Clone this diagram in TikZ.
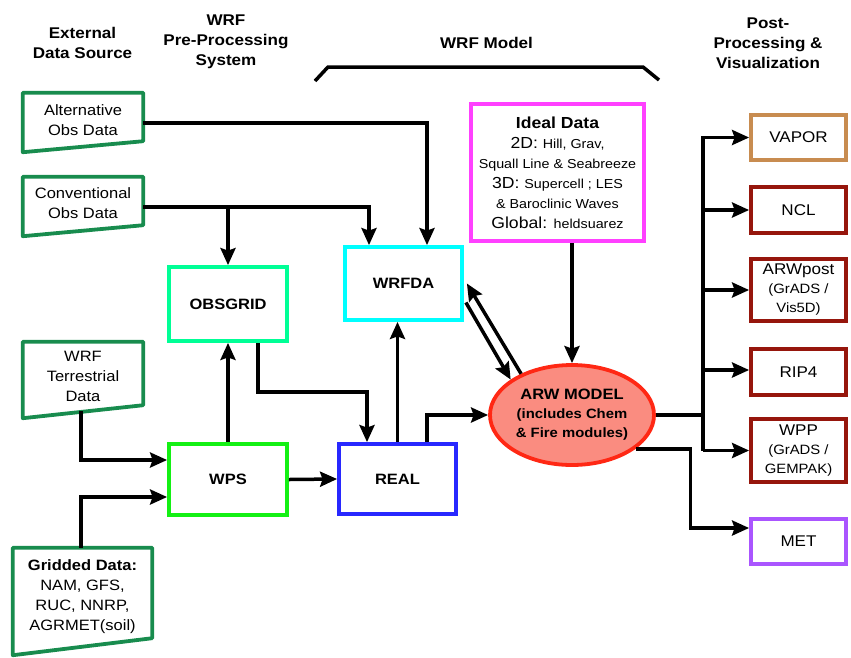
\documentclass[tikz,border=0pt]{standalone}
\usepackage{fontspec}
\setmainfont{Liberation Sans}[FakeStretch=1.1]
\usetikzlibrary{arrows.meta,calc,shapes.geometric}
\definecolor{datagreen}{RGB}{24,140,78}
\definecolor{obsgreen}{RGB}{0,255,150}
\definecolor{wpsgreen}{RGB}{20,240,20}
\definecolor{wrfdacyan}{RGB}{0,255,255}
\definecolor{realblue}{RGB}{40,40,255}
\definecolor{idealmag}{RGB}{255,64,255}
\definecolor{arwfill}{RGB}{250,140,128}
\definecolor{arwline}{RGB}{255,40,20}
\definecolor{vaportan}{RGB}{200,140,80}
\definecolor{postred}{RGB}{150,22,12}
\definecolor{metpurple}{RGB}{170,85,255}
\newcommand\fsz[1]{\fontsize{#1}{20}\selectfont}
\newcommand\fszb[1]{\fontsize{#1}{19}\selectfont}
\begin{document}
\begin{tikzpicture}[x=1pt,y=-1pt,
 hdr/.style={font=\bfseries\fsz{15.5}, align=center, inner sep=0},
 dshape/.style={inner sep=0},
 dtext/.style={font=\fsz{15}, align=center, inner sep=0},
 bx/.style={draw, line width=3.8pt, inner sep=0, align=center},
 corebx/.style={bx, minimum width=117pt, font=\bfseries\fsz{15}},
 postbx/.style={bx, draw=postred, minimum width=95pt, font=\fszb{15.5}},
 conn/.style={line width=3.5pt},
 arr/.style={conn, -{Stealth[length=17pt,width=15pt,inset=2.5pt]}},
 dborder/.style={draw=datagreen, line width=3.8pt, line join=round}
]
\useasboundingbox (0,0) rectangle (851,657);

% headers
\node[hdr] (h1) at (82.5,43) {External\\Data Source};
\node[hdr] (h2) at (226,42) {WRF\\Pre-Processing\\System};
\node[hdr] (h3) at (486.5,43) {WRF Model};
\node[hdr] (h4) at (768,43) {Post-\\Processing \&\\Visualization};
\draw[conn] (315,81) -- (328,67) -- (643,67) -- (659,80);

% external data boxes
\node[dshape, minimum width=120pt, minimum height=48pt] (alt) at (83,117) {};
\draw[dborder] (alt.north west) -- (alt.north east) -- (alt.south east) -- ($(alt.south west)+(0,11)$) -- cycle;
\node[dtext] (altT) at ($(alt)+(0,3)$) {Alternative\\Obs Data};

\node[dshape, minimum width=120pt, minimum height=48pt] (conv) at (83,201) {};
\draw[dborder] (conv.north west) -- (conv.north east) -- (conv.south east) -- ($(conv.south west)+(0,11)$) -- cycle;
\node[dtext] (convT) at ($(conv)+(0,2)$) {Conventional\\Obs Data};

\node[dshape, minimum width=120pt, minimum height=63pt] (terr) at (83,373.5) {};
\draw[dborder] (terr.north west) -- (terr.north east) -- (terr.south east) -- ($(terr.south west)+(0,13)$) -- cycle;
\node[dtext] (terrT) at ($(terr)+(0,2.5)$) {WRF\\Terrestrial\\Data};

\node[dshape, minimum width=139pt, minimum height=90pt] (grid) at (82.5,593) {};
\draw[dborder] (grid.north west) -- (grid.north east) -- (grid.south east) -- ($(grid.south west)+(0,17)$) -- cycle;
\node[dtext, font=\fsz{15}] (gridT) at ($(grid)+(0,4)$) {{\bfseries Gridded Data:}\\NAM, GFS,\\RUC, NNRP,\\AGRMET(soil)};

% core boxes
\node[corebx, draw=obsgreen, minimum width=118pt, minimum height=74pt] (obsgrid) at (228,304) {OBSGRID};
\node[corebx, draw=wpsgreen, minimum width=118pt, minimum height=71pt] (wps) at (228,479.5) {WPS};
\node[corebx, draw=wrfdacyan, minimum height=73pt] (wrfda) at (403.5,283.5) {WRFDA};
\node[corebx, draw=realblue, minimum height=70pt] (real) at (397.5,479) {REAL};
\node[bx, draw=idealmag, minimum width=173pt, minimum height=137pt, font=\fsz{16}] (ideal) at (557.5,172.5)
 {{\bfseries Ideal Data}\\2D: {\fsz{13}Hill, Grav,}\\{\fsz{13}Squall Line \& Seabreeze}\\3D: {\fsz{13}Supercell ; LES}\\{\fsz{13}\& Baroclinic Waves}\\Global: {\fsz{13}heldsuarez}};
\node[ellipse, draw=arwline, fill=arwfill, line width=3.8pt, minimum width=164pt, minimum height=100pt, inner sep=0, align=center, font=\bfseries\fszb{15}] (arw) at (572,415)
 {ARW MODEL\\{\fszb{13.5}(includes Chem}\\{\fszb{13.5}\& Fire modules)}};

% post-processing boxes
\node[postbx, draw=vaportan, minimum height=45pt] (vapor) at (798.5,137.5) {VAPOR};
\node[postbx, minimum height=46pt] (ncl) at (798.5,210) {NCL};
\node[postbx, minimum height=62pt] (arwpost) at (798.5,290) {ARWpost\\{\fszb{13.5}(GrADS /}\\{\fszb{13.5}Vis5D)}};
\node[postbx, minimum height=46pt] (rip) at (798.5,372) {RIP4};
\node[postbx, minimum height=63pt] (wpp) at (798.5,450.5) {WPP\\{\fszb{13.5}(GrADS /}\\{\fszb{13.5}GEMPAK)}};
\node[postbx, draw=metpurple, minimum height=45pt] (met) at (798.5,541.5) {MET};

% connectors
\coordinate (cstart) at ($(conv.east)+(0,6)$);
\draw[arr] ($(alt.east)+(0,6)$) -| ($(wrfda.north)+(23.5,0)$);
\draw[arr] (cstart) -| ($(wrfda.north)+(-34.5,0)$);
\draw[arr] (obsgrid.north |- cstart) -- (obsgrid.north);
\draw[arr] ($(terr.south)+(-2,6)$) |- ($(wps.west)+(0,-19.5)$);
\draw[arr] ($(grid.north)+(-1.5,0)$) |- ($(wps.west)+(0,17.5)$);
\draw[arr] (wps.north) -- (obsgrid.south);
\draw[arr] ($(obsgrid.south)+(30,0)$) -- ++(0,49) -| ($(real.north)+(-30.5,0)$);
\draw[arr] (wps.east) -- (real.west);
\draw[arr] (real.north) -- (real.north |- wrfda.south);
\draw[arr] ($(real.north)+(29.5,0)$) |- (arw.west);
\draw[arr] (arw.141) -- ($(wrfda.east)+(3,0)$);
\draw[arr] ($(wrfda.east)+(2,19)$) -- (arw.150);
\draw[arr] (ideal.south -| arw.north) -- (arw.north);

\coordinate (tr) at (703,0);
\draw[conn] (arw.east) -- (arw.east -| tr);
\draw[arr] (wpp.west -| tr) -- (vapor.west -| tr) -- (vapor.west);
\draw[arr] (ncl.west -| tr) -- (ncl.west);
\draw[arr] (arwpost.west -| tr) -- (arwpost.west);
\draw[arr] ($(rip.west -| tr)+(0,-2)$) -- ($(rip.west)+(0,-2)$);
\draw[arr] (wpp.west -| tr) -- (wpp.west);
\draw[arr] (arw.332.4) -- ++(55,0) |- ($(met.west)+(0,-13.5)$);
\end{tikzpicture}
\end{document}
